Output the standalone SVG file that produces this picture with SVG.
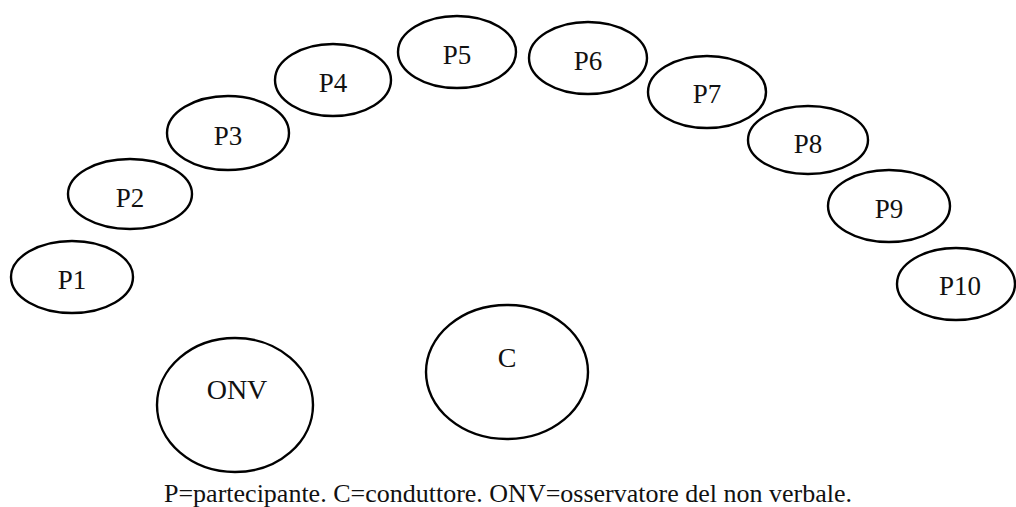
<svg xmlns="http://www.w3.org/2000/svg" width="1016" height="507" viewBox="0 0 1016 507">
<style>
.n{fill:#fff;stroke:#000;stroke-width:2.4}
text{font-family:'Liberation Serif','Times New Roman',Tinos,'DejaVu Serif',serif;fill:#111;text-anchor:middle}
.t{font-size:27px}
.b{font-size:28px}
.cap{font-size:26px}
</style>
<rect width="1016" height="507" fill="#fff"/>
<g id="connectors"/>
<g id="P1"><ellipse class="n" cx="72" cy="277" rx="61" ry="36"/><text class="t" x="72" y="289">P1</text></g>
<g id="P2"><ellipse class="n" cx="130" cy="194" rx="62" ry="35"/><text class="t" x="130" y="207">P2</text></g>
<g id="P3"><ellipse class="n" cx="228" cy="133" rx="61" ry="37"/><text class="t" x="228" y="145">P3</text></g>
<g id="P4"><ellipse class="n" cx="333" cy="80" rx="58" ry="36"/><text class="t" x="333" y="92">P4</text></g>
<g id="P5"><ellipse class="n" cx="457" cy="52" rx="59" ry="36"/><text class="t" x="457" y="64">P5</text></g>
<g id="P6"><ellipse class="n" cx="588" cy="58" rx="59" ry="36"/><text class="t" x="588" y="70">P6</text></g>
<g id="P7"><ellipse class="n" cx="707" cy="92" rx="59" ry="36"/><text class="t" x="707" y="103">P7</text></g>
<g id="P8"><ellipse class="n" cx="808" cy="140" rx="60" ry="34"/><text class="t" x="808" y="153">P8</text></g>
<g id="P9"><ellipse class="n" cx="889" cy="206" rx="61" ry="36"/><text class="t" x="889" y="218">P9</text></g>
<g id="P10"><ellipse class="n" cx="956" cy="284" rx="59" ry="36"/><text class="t" x="960" y="295">P10</text></g>
<g id="ONV"><ellipse class="n" cx="235" cy="405" rx="78" ry="67"/><text class="b" x="237" y="399">ONV</text></g>
<g id="C"><ellipse class="n" cx="507" cy="372" rx="81" ry="67"/><text class="b" x="507" y="367">C</text></g>
<text class="cap" x="508" y="502">P=partecipante. C=conduttore. ONV=osservatore del non verbale.</text>
</svg>
